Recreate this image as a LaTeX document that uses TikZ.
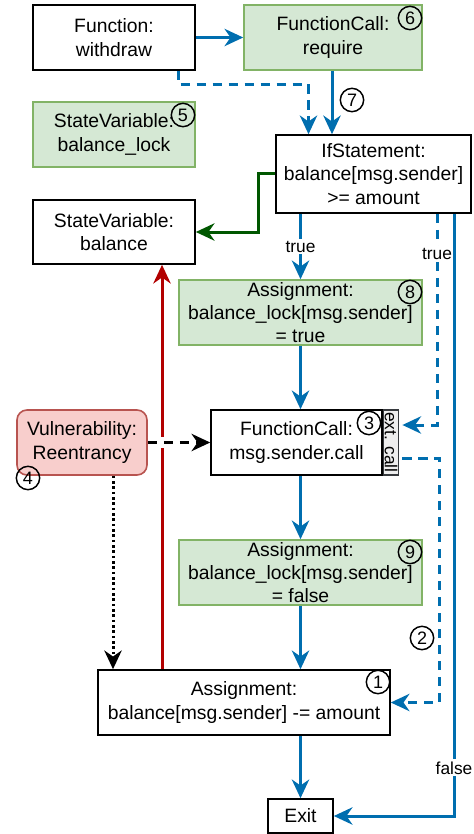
\documentclass[tikz,border=0pt]{standalone}
\usepackage{fontspec}
\setmainfont{Liberation Sans}
\usetikzlibrary{arrows.meta,calc}
\definecolor{flowblue}{RGB}{0,110,175}
\definecolor{okfill}{RGB}{213,232,212}
\definecolor{okline}{RGB}{130,179,102}
\definecolor{vulnfill}{RGB}{248,206,204}
\definecolor{vulnline}{RGB}{184,84,80}
\definecolor{darkgrn}{RGB}{0,87,0}
\definecolor{darkred}{RGB}{178,0,0}
\definecolor{xcallfill}{RGB}{238,238,238}
\definecolor{xcallline}{RGB}{54,57,61}

\tikzset{every picture/.style={line width=0.75pt}}
\tikzset{
  box/.style={draw, fill=white, line width=1.2pt, align=center, inner sep=0pt,
    minimum height=48.75pt, font=\fontsize{14.5}{17.5}\selectfont},
  okbox/.style={box, fill=okfill, draw=okline},
  vulnbox/.style={box, fill=vulnfill, draw=vulnline, rounded corners=7.5pt},
  xcallbox/.style={draw=xcallline, fill=xcallfill, line width=1.2pt, inner sep=0pt,
    minimum width=11.25pt, minimum height=48.75pt, font=\fontsize{13}{13}\selectfont},
  numc/.style={circle, draw, line width=1.1pt, inner sep=0pt, minimum size=17.5pt,
    font=\fontsize{13.5}{13.5}\selectfont},
  tip/.style={-{Stealth[length=14pt,width=13pt,inset=4.5pt]}},
  flow/.style={draw=flowblue, line width=2.25pt, tip},
  flowd/.style={flow, dash pattern=on 7pt off 5pt},
  greenln/.style={draw=darkgrn, line width=2.25pt, tip},
  redln/.style={draw=darkred, line width=2.25pt, tip},
  vulnln/.style={draw=black, line width=2.25pt, tip, dash pattern=on 7pt off 5pt},
  dotln/.style={draw=black, line width=2.25pt, tip, dash pattern=on 2pt off 2pt},
  lbl/.style={fill=white, inner sep=1.5pt, font=\fontsize{13}{13}\selectfont},
}

\begin{document}
\begin{tikzpicture}[x=0.75pt,y=0.75pt,yscale=-1,xscale=1]
    \useasboundingbox (0,0) rectangle (474,834);
    % Text Node
    \node[box, minimum width=121.5pt] (withdraw) at (114,37.5) {Function:\\withdraw};
    % Text Node
    \node[okbox, minimum width=133.5pt] (require) at (333,37.5) {FunctionCall:\\require};
    % Text Node
    \node[okbox, minimum width=121.5pt] (lockvar) at (114,134.5) {StateVariable:\\balance\_lock};
    % Text Node
    \node[box, minimum width=146.25pt, minimum height=58.5pt] (ifst) at (373.5,174) {IfStatement:\\balance[msg.sender]\\>= amount};
    % Text Node
    \node[box, minimum width=121.5pt, minimum height=48pt] (balvar) at (114,232) {StateVariable:\\balance};
    % Text Node
    \node[okbox, minimum width=182.25pt] (asgtrue) at (300.5,312.5) {Assignment:\\balance\_lock[msg.sender]\\= true};
    % Text Node
    \node[box, minimum width=128.25pt] (call) at (296.5,442.5) {FunctionCall:\\msg.sender.call};
    \node[xcallbox, anchor=west] (xcall) at (call.east) {\rotatebox{-90}{ext. call}};
    % Text Node
    \node[vulnbox, minimum width=97.5pt] (vuln) at (82,442.5) {Vulnerability:\\Reentrancy};
    % Text Node
    \node[okbox, minimum width=182.25pt] (asgfalse) at (300.5,572.5) {Assignment:\\balance\_lock[msg.sender]\\= false};
    % Text Node
    \node[box, minimum width=219pt] (asgsub) at (244,702.5) {Assignment:\\balance[msg.sender] -= amount};
    % Text Node
    \node[box, minimum width=48.75pt, minimum height=25.5pt] (exit) at (300.5,816) {Exit};

    % Step numbers
    \node[numc] (n1) at (378,682) {1};
    \node[numc] (n2) at (422,638) {2};
    \node[numc] (n3) at (369,423) {3};
    \node[numc] (n4) at (28,478) {4};
    \node[numc] (n5) at (183,115) {5};
    \node[numc] (n6) at (410,18) {6};
    \node[numc] (n7) at (352,100) {7};
    \node[numc] (n8) at (410,292) {8};
    \node[numc] (n9) at (410,552) {9};

    % Connection
    \draw[flow] (withdraw.east) -- (require.west);
    % Connection
    \draw[flowd] ($(withdraw.south)+(64,0)$) |- ($(ifst.north)+(-65,-50)$) -- ($(ifst.north)+(-65,0)$);
    % Connection
    \draw[flow] ($(require.south)+(-1,0)$) coordinate (rq) -- (rq |- ifst.north);
    % Connection
    \draw[greenln] (ifst.west) -- ++(-17,0) |- (balvar.east);
    % Connection
    \draw[flow] (asgtrue.north |- ifst.south) -- (asgtrue.north) node[lbl, midway] {true};
    % Connection
    \draw[flowd] ($(ifst.south)+(63.5,0)$) |- ($(xcall.east)+(3,-17.5)$) node[lbl, pos=0.095] {true};
    % Connection
    \draw[flow] ($(ifst.south)+(80.5,0)$) |- (exit.east) node[lbl, pos=0.46] {false};
    % Connection
    \draw[flow] (asgtrue.south) -- (asgtrue.south |- call.north);
    % Connection
    \draw[redln] ($(asgsub.north)+(-82,0)$) coordinate (rs) -- (rs |- balvar.south);
    % Connection
    \draw[vulnln, preaction={draw=white, solid, line width=8pt, -}] (vuln.east) -- (call.west);
    % Connection
    \draw[dotln] ($(vuln.south)+(31,0)$) coordinate (vs) -- (vs |- asgsub.north);
    % Connection
    \draw[flow] (asgfalse.north |- call.south) -- (asgfalse.north);
    % Connection
    \draw[flowd] ($(xcall.east)+(3,15.5)$) -- ++(37,0) |- (asgsub.east);
    % Connection
    \draw[flow] (asgfalse.south) -- (asgfalse.south |- asgsub.north);
    % Connection
    \draw[flow] (exit.north |- asgsub.south) -- (exit.north);

\end{tikzpicture}
\end{document}
